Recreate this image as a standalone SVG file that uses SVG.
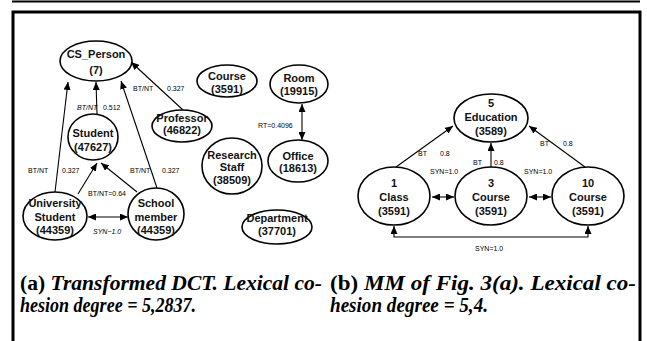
<svg xmlns="http://www.w3.org/2000/svg" width="647" height="341" viewBox="0 0 647 341">
<defs>
<marker id="ah" viewBox="0 0 8 7" refX="8" refY="3.5" markerWidth="8" markerHeight="7" markerUnits="userSpaceOnUse" orient="auto-start-reverse">
<path d="M0,0 L8,3.5 L0,7 z" fill="#000"/>
</marker>
<style>
.nd ellipse{fill:#fff;stroke:#000;stroke-width:1.6}
.nd text{font-family:"Liberation Sans",Arial,sans-serif;font-size:11px;font-weight:bold;text-anchor:middle;fill:#111}
.ed path{fill:none;stroke:#000;stroke-width:1.1}
.ed .a{marker-end:url(#ah)}
.ed .b{marker-start:url(#ah);marker-end:url(#ah)}
.lb{font-family:"Liberation Sans",Arial,sans-serif;font-size:7px;fill:#000}
.cap{font-family:"Liberation Serif","Times New Roman",serif;font-size:20px;font-weight:bold;fill:#000}
.it{font-style:italic}
</style>
</defs>
<rect width="647" height="341" fill="#fff"/>
<g id="frame" fill="none" stroke="#000">
<path d="M12,1.5 L640,1.5" stroke-width="2"/>
<path d="M13,341 L13,12 L640,12 L640,341" stroke-width="3"/>
</g>
<g id="connectors" class="ed">
<path class="a" d="M55,192 L68,82"/>
<path class="a" d="M97,114 L96,82"/>
<path class="a" d="M157,188 L121,81"/>
<path class="a" d="M183,110 L131,62"/>
<path class="a" d="M78,194 L97,163"/>
<path class="a" d="M137,192 L101,163"/>
<path class="b" d="M88,217 L128,217"/>
<path class="b" d="M302,104 L302,140"/>
<path class="a" d="M396,167 L453,126"/>
<path class="a" d="M491,167 L491,143"/>
<path class="a" d="M585,167 L529,126"/>
<path class="b" d="M432,197 L454,197"/>
<path class="b" d="M529,197 L551,197"/>
<path class="b" d="M394,226 L394,237 L588,237 L588,226"/>
</g>
<g id="labels" class="lb">
<text x="77" y="110" font-style="italic">BT/NT</text><text x="103" y="110">0.512</text>
<text x="133" y="91">BT/NT</text><text x="167" y="91">0.327</text>
<text x="28" y="173">BT/NT</text><text x="62" y="173">0.327</text>
<text x="130" y="173">BT/NT</text><text x="162" y="173">0.327</text>
<text x="88" y="196">BT/NT=0.64</text>
<text x="93" y="234" font-style="italic">SYN−1.0</text>
<text x="258" y="128">RT=0.4096</text>
<text x="418" y="156">BT</text><text x="440" y="156">0.8</text>
<text x="473" y="165">BT</text><text x="494" y="165">0.8</text>
<text x="540" y="146">BT</text><text x="563" y="146">0.8</text>
<text x="430" y="174">SYN=1.0</text>
<text x="524" y="174">SYN=1.0</text>
<text x="475" y="251">SYN=1.0</text>
</g>
<g id="cs_person" class="nd"><ellipse cx="96" cy="61" rx="36" ry="20"/><text x="96" y="58">CS_Person</text><text x="96" y="74">(7)</text></g>
<g id="student" class="nd"><ellipse cx="93" cy="137" rx="25" ry="23"/><text x="93" y="137">Student</text><text x="93" y="151">(47627)</text></g>
<g id="professor" class="nd"><ellipse cx="182" cy="126" rx="30" ry="16"/><text x="182" y="122">Professor</text><text x="182" y="134">(46822)</text></g>
<g id="course" class="nd"><ellipse cx="227" cy="81" rx="30" ry="16"/><text x="227" y="80">Course</text><text x="227" y="93">(3591)</text></g>
<g id="room" class="nd"><ellipse cx="299" cy="84" rx="29" ry="19"/><text x="299" y="82">Room</text><text x="299" y="95">(19915)</text></g>
<g id="office" class="nd"><ellipse cx="298" cy="161" rx="30" ry="21"/><text x="298" y="160">Office</text><text x="298" y="172">(18613)</text></g>
<g id="research_staff" class="nd"><ellipse cx="232" cy="166" rx="30" ry="28"/><text x="232" y="159">Research</text><text x="232" y="171">Staff</text><text x="232" y="184">(38509)</text></g>
<g id="department" class="nd"><ellipse cx="277" cy="227" rx="35" ry="17"/><text x="277" y="222">Department</text><text x="277" y="235">(37701)</text></g>
<g id="university_student" class="nd"><ellipse cx="55" cy="216" rx="32" ry="24"/><text x="55" y="207">University</text><text x="55" y="221">Student</text><text x="55" y="234">(44359)</text></g>
<g id="school_member" class="nd"><ellipse cx="156" cy="214" rx="28" ry="26"/><text x="156" y="207">School</text><text x="156" y="221">member</text><text x="156" y="234">(44359)</text></g>
<g id="education" class="nd"><ellipse cx="491" cy="118" rx="37" ry="24"/><text x="491" y="107">5</text><text x="491" y="121">Education</text><text x="491" y="135">(3589)</text></g>
<g id="class1" class="nd"><ellipse cx="394" cy="196" rx="36" ry="29"/><text x="394" y="187">1</text><text x="394" y="201">Class</text><text x="394" y="215">(3591)</text></g>
<g id="course3" class="nd"><ellipse cx="491" cy="196" rx="36" ry="29"/><text x="491" y="187">3</text><text x="491" y="201">Course</text><text x="491" y="215">(3591)</text></g>
<g id="course10" class="nd"><ellipse cx="588" cy="196" rx="36" ry="29"/><text x="588" y="187">10</text><text x="588" y="201">Course</text><text x="588" y="215">(3591)</text></g>
<g id="captions" class="cap">
<text x="20" y="290" textLength="302" lengthAdjust="spacingAndGlyphs">(a)  <tspan class="it">Transformed DCT. Lexical co-</tspan></text>
<text x="20" y="312" class="it" textLength="176" lengthAdjust="spacingAndGlyphs">hesion degree = 5,2837.</text>
<text x="330" y="290" textLength="306" lengthAdjust="spacingAndGlyphs">(b) <tspan class="it">MM of Fig. 3(a). Lexical co-</tspan></text>
<text x="330" y="312" class="it" textLength="158" lengthAdjust="spacingAndGlyphs">hesion degree = 5,4.</text>
</g>
</svg>
